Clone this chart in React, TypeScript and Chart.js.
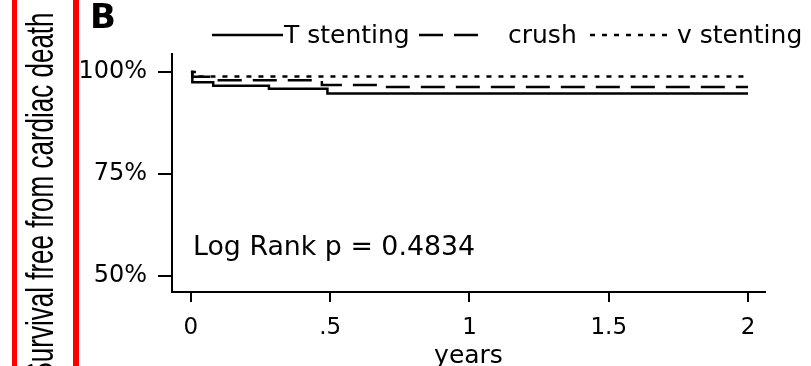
import React, { useEffect, useRef } from "react";
import { Chart, registerables } from "chart.js";

Chart.register(...registerables);

// ---- data ----
const seriesNames = ["T stenting", "crush", "v stenting"];
const tTimes = [0, 0.005, 0.08, 0.28, 0.49, 2.0];
const tSurv = [100, 97.5, 96.6, 95.9, 94.7, 94.7];
const crushTimes = [0, 0.005, 0.1, 0.47, 0.68, 2.0];
const crushSurv = [100, 98.8, 98.0, 96.8, 96.3, 96.3];
const vTimes = [0, 0.03, 2.0];
const vSurv = [100, 98.9, 98.9];
const yTickValues = [50, 75, 100];
const yTickLabels = ["50%", "75%", "100%"];
const xTickValues = [0, 0.5, 1, 1.5, 2];
const xTickLabels = ["0", ".5", "1", "1.5", "2"];
const yTitle = "Survival free from cardiac death";
const xTitle = "years";
const panelLabel = "B";
const statText = "Log Rank p = 0.4834";

const toPoints = (xs: number[], ys: number[]) => xs.map((x, i) => ({ x, y: ys[i] }));

const annotate = {
  id: "annotate",
  afterDraw(chart: any) {
    const ctx = chart.ctx as CanvasRenderingContext2D;
    ctx.save();
    // red frame edges
    ctx.fillStyle = "#ff0000";
    ctx.fillRect(12, 0, 5, 366);
    ctx.fillRect(73, 0, 6, 366);

    ctx.fillStyle = "#000";
    // y title (rotated, stretched)
    ctx.save();
    ctx.translate(53, 196);
    ctx.rotate(-Math.PI / 2);
    ctx.scale(1, 1.47);
    ctx.font = "26px 'Liberation Sans'";
    ctx.textAlign = "center";
    ctx.textBaseline = "alphabetic";
    ctx.fillText(yTitle, 0, 0);
    ctx.restore();

    // panel label
    ctx.font = "bold 34px 'DejaVu Sans'";
    ctx.textAlign = "left";
    ctx.textBaseline = "alphabetic";
    ctx.fillText(panelLabel, 90, 28);

    // stat text
    ctx.font = "26.8px 'DejaVu Sans'";
    ctx.fillText(statText, 193, 255);

    // legend
    const slots = [
      { x0: 212, x1: 283, tx: 284 },
      { x0: 419, x1: 482, tx: 508 },
      { x0: 590, x1: 673, tx: 677 },
    ];
    ctx.font = "25px 'DejaVu Sans'";
    chart.data.datasets.forEach((ds: any, i: number) => {
      const s = slots[i];
      ctx.save();
      ctx.strokeStyle = "#000";
      ctx.lineWidth = 2.5;
      ctx.setLineDash(ds.borderDash || []);
      ctx.beginPath();
      ctx.moveTo(s.x0, 35);
      ctx.lineTo(s.x1, 35);
      ctx.stroke();
      ctx.restore();
      ctx.fillText(ds.label, s.tx, 43);
    });
    ctx.restore();
  },
};

export default function App() {
  const ref = useRef<HTMLCanvasElement | null>(null);
  useEffect(() => {
    if (!ref.current) return;
    const chart = new Chart(ref.current, {
      type: "line",
      data: {
        datasets: [
          {
            label: seriesNames[0],
            data: toPoints(tTimes, tSurv),
            borderColor: "#000",
            borderWidth: 2.5,
            pointRadius: 0,
            stepped: "before",
            fill: false,
          },
          {
            label: seriesNames[1],
            data: toPoints(crushTimes, crushSurv),
            borderColor: "#000",
            borderWidth: 2.5,
            borderDash: [24, 11],
            pointRadius: 0,
            stepped: "before",
            fill: false,
          },
          {
            label: seriesNames[2],
            data: toPoints(vTimes, vSurv),
            borderColor: "#000",
            borderWidth: 2.5,
            borderDash: [5, 7],
            pointRadius: 0,
            stepped: "before",
            fill: false,
          },
        ],
      },
      options: {
        responsive: false,
        animation: false,
        layout: { padding: { top: 54, right: 46, left: 0, bottom: 0 } },
        plugins: { legend: { display: false }, tooltip: { enabled: false }, title: { display: false } },
        scales: {
          x: {
            type: "linear",
            min: -0.068,
            max: 2.061,
            afterBuildTicks: (s: any) => {
              s.ticks = xTickValues.map((v) => ({ value: v }));
            },
            afterFit: (s: any) => {
              s.height = 74;
            },
            ticks: {
              autoSkip: false,
              maxRotation: 0,
              color: "#000",
              padding: 12,
              font: { family: "'DejaVu Sans'", size: 23 },
              callback: (v: any) => {
                const i = xTickValues.indexOf(Number(v));
                return i >= 0 ? xTickLabels[i] : "";
              },
            },
            grid: { drawOnChartArea: false, drawTicks: true, tickLength: 10, color: "#000", lineWidth: 2 },
            border: { display: true, color: "#000", width: 2 },
            title: {
              display: true,
              text: xTitle,
              color: "#000",
              font: { family: "'DejaVu Sans'", size: 25 },
              padding: { top: 0, bottom: -5 },
            },
          },
          y: {
            type: "linear",
            min: 46.1,
            max: 104.4,
            afterBuildTicks: (s: any) => {
              s.ticks = yTickValues.map((v) => ({ value: v }));
            },
            afterFit: (s: any) => {
              s.width = 172;
            },
            ticks: {
              autoSkip: false,
              color: "#000",
              padding: 11,
              font: { family: "'DejaVu Sans'", size: 24 },
              callback: (v: any) => {
                const i = yTickValues.indexOf(Number(v));
                return i >= 0 ? yTickLabels[i] : "";
              },
            },
            grid: { drawOnChartArea: false, drawTicks: true, tickLength: 14, color: "#000", lineWidth: 2 },
            border: { display: true, color: "#000", width: 2 },
          },
        },
      },
      plugins: [annotate],
    });
    return () => chart.destroy();
  }, []);
  return (
    <div style={{ position: "fixed", left: 0, top: 0, width: 811, height: 366, background: "#fff" }}>
      <canvas ref={ref} width={811} height={366} style={{ display: "block" }} />
    </div>
  );
}
